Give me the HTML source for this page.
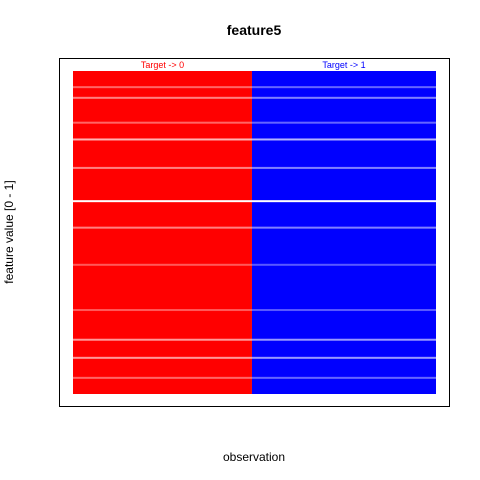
<!DOCTYPE html>
<html><head><meta charset="utf-8"><style>
body{margin:0;background:#fff;}
svg{display:block;font-family:"Liberation Sans",sans-serif;}
</style></head><body>
<svg id="chart" width="480" height="480">
<text x="254" y="35" text-anchor="middle" font-size="14" font-weight="bold">feature5</text>
<text x="254" y="461" text-anchor="middle" font-size="12">observation</text>
<text transform="translate(13,232) rotate(-90)" text-anchor="middle" font-size="12">feature value [0 - 1]</text>
<g id="marks"></g>
<rect x="59.5" y="58.5" width="390" height="348" fill="none" stroke="#000" stroke-width="1"/>
</svg>
<script>
const classLabels = ["Target -> 0", "Target -> 1"];
const classColors = ["#ff0000", "#0000ff"];
const classCounts = [4930, 5070];
const gapValues = [0.597, 0.788, 0.70, 0.515, 0.917, 0.168, 0.112, 0.84, 0.40, 0.26, 0.05, 0.95];
const gapStrength = [1.0, 0.7, 0.5, 0.5, 0.5, 0.6, 0.6, 0.4, 0.35, 0.35, 0.4, 0.4];

const X0=73,X1=436,Y0=394,Y1=71;
const total = classCounts.reduce((a,b)=>a+b,0);
const xs = v => X0 + (X1-X0)*(v/total);
const ys = v => Y0 - (Y0-Y1)*v;
const g = document.getElementById('marks');
const NS = "http://www.w3.org/2000/svg";
let start = 0;
classCounts.forEach((c,i)=>{
  const r = document.createElementNS(NS,'rect');
  
  
  r.setAttribute('x', xs(start)); r.setAttribute('width', xs(start+c)-xs(start));
  r.setAttribute('y', ys(1)); r.setAttribute('height', ys(0)-ys(1));
  r.setAttribute('fill', classColors[i]);
  g.appendChild(r);
  const t = document.createElementNS(NS,'text');
  
  
  t.setAttribute('x', (xs(start)+xs(start+c))/2); t.setAttribute('y', 68);
  t.setAttribute('text-anchor','middle'); t.setAttribute('font-size','9');
  t.setAttribute('fill', classColors[i]);
  t.textContent = classLabels[i];
  g.appendChild(t);
  start += c;
});
gapValues.forEach((v,i)=>{
  const l = document.createElementNS(NS,'rect');
  
  
  l.setAttribute('x', xs(0)); l.setAttribute('width', xs(total)-xs(0));
  l.setAttribute('y', ys(v)-1); l.setAttribute('height', 2);
  l.setAttribute('fill', '#fff'); l.setAttribute('opacity', gapStrength[i]);
  g.appendChild(l);
});
</script>
</body></html>
